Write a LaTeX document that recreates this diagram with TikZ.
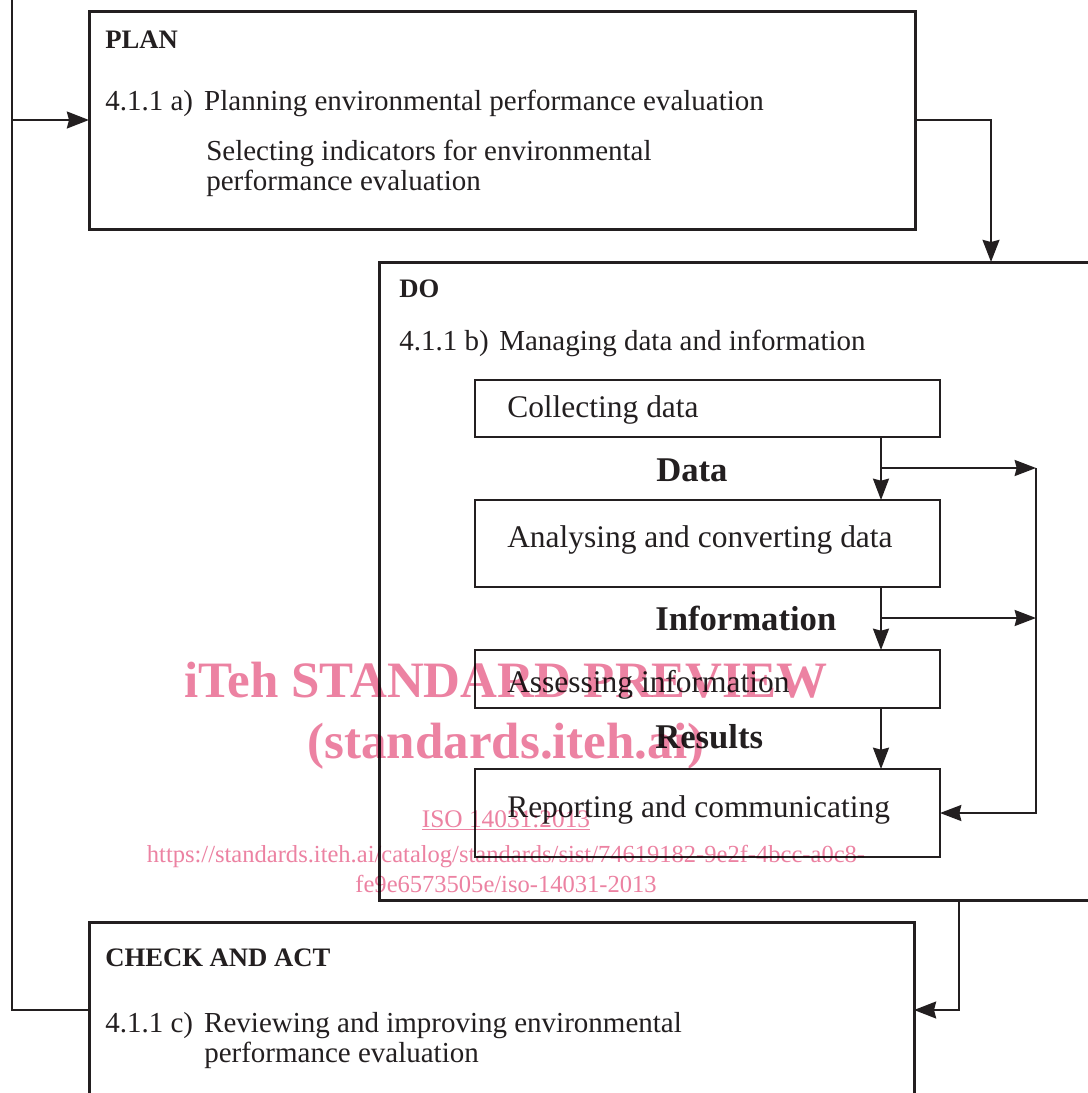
\documentclass[tikz,border=0pt]{standalone}
\usepackage{fontspec}
\setmainfont{Liberation Serif}
\usetikzlibrary{arrows.meta,calc}
\definecolor{ink}{RGB}{35,31,32}
\definecolor{wmpink}{RGB}{236,130,162}
\begin{document}
\begin{tikzpicture}[x=0.75pt,y=-0.75pt,
  bigbox/.style={draw=ink, line width=2.25pt, inner sep=0pt, outer sep=0pt, anchor=north west},
  smallbox/.style={draw=ink, line width=1.5pt, inner sep=0pt, outer sep=0pt, anchor=north west},
  txt/.style={anchor=base west, inner sep=0pt, text=ink, font=\fontsize{21.75}{22.5}\selectfont},
  intxt/.style={txt, font=\fontsize{23.6}{26}\selectfont},
  head/.style={txt, font=\fontsize{20}{24}\selectfont\bfseries},
  flowlbl/.style={txt, font=\fontsize{26}{30}\selectfont\bfseries},
  arr/.style={draw=ink, line width=2.2pt, -{Stealth[length=16.5pt,width=12.5pt,inset=1.5pt]}},
  iarr/.style={draw=ink, line width=1.5pt, -{Stealth[length=16pt,width=12pt,inset=1.5pt]}},
  wmk/.style={anchor=base, inner sep=0pt, text=wmpink}
]
\useasboundingbox (0,0) rectangle (1088,1093);
\fill[white] (0,0) rectangle (1088,1093);
\begin{scope}
\clip (0,0) rectangle (1088,1093);

% ---- boxes
\node[bigbox, minimum width={826*0.75pt}, minimum height={218*0.75pt}] (plan) at (89,11) {};
\node[bigbox, minimum width={740*0.75pt}, minimum height={638*0.75pt}] (do) at (379,262) {};
\node[bigbox, minimum width={825*0.75pt}, minimum height={200*0.75pt}] (check) at (89,922) {};

\node[smallbox, minimum width={465*0.75pt}, minimum height={57*0.75pt}] (collect) at (475,380) {};
\node[smallbox, minimum width={465*0.75pt}, minimum height={87*0.75pt}] (analyse) at (475,500) {};
\node[smallbox, minimum width={465*0.75pt}, minimum height={58*0.75pt}] (assess) at (475,650) {};
\node[smallbox, minimum width={465*0.75pt}, minimum height={88*0.75pt}] (report) at (475,769) {};

% ---- texts
\node[head] (planT) at (105,48) {PLAN};
\node[txt] (planA) at (105,110) {\makebox[74.25pt][l]{4.1.1 a)}Planning environmental performance evaluation};
\node[txt] (planB) at (206,160) {Selecting indicators for environmental};
\node[txt] (planC) at (206,190) {performance evaluation};

\node[head] (doT) at (399,297) {DO};
\node[txt] (doA) at (399,350) {\makebox[75pt][l]{4.1.1 b)}Managing data and information};

\node[intxt] (collectT) at (507,417) {Collecting data};
\node[flowlbl] (dataT) at (656,481) {Data};
\node[intxt] (analyseT) at (507,547) {Analysing and converting data};
\node[flowlbl] (infoT) at (655,630) {Information};
\node[intxt] (assessT) at (507,692) {Assessing information};
\node[flowlbl] (resT) at (655,748) {Results};
\node[intxt] (reportT) at (507,817) {Reporting and communicating};

\node[head] (checkT) at (105,966) {CHECK AND ACT};
\node[txt] (checkA) at (105,1032) {\makebox[74.25pt][l]{4.1.1 c)}Reviewing and improving environmental};
\node[txt] (checkB) at (204,1062) {performance evaluation};

% ---- helper coordinates
\coordinate (ya) at (0,120);
\coordinate (yc) at (0,1010);
\coordinate (xl) at (12,0);
\coordinate (xd) at (991,0);
\coordinate (xe) at (959,0);
\coordinate (xa) at (881,0);
\coordinate (b1) at (881,468);
\coordinate (r1) at (1036,468);
\coordinate (b2) at (881,618);
\coordinate (r2) at (1036,618);

% ---- outer connectors
\draw[arr] (plan.east |- ya) -| (do.north -| xd);
\draw[arr] (do.south -| xe) |- (check.east |- yc);
\draw[arr] (check.west |- yc) -| (xl) |- (plan.west |- ya);

% ---- inner connectors
\draw[iarr] (collect.south -| xa) -- (analyse.north -| xa);
\draw[iarr] (analyse.south -| xa) -- (assess.north -| xa);
\draw[iarr] (assess.south -| xa) -- (report.north -| xa);
\draw[iarr] (b1) -- (r1);
\draw[iarr] (b2) -- (r2);
\draw[iarr] (r1) |- (report.east);

% ---- watermark
\begin{scope}[blend mode=multiply]
\node[wmk, font=\fontsize{38.25}{40}\selectfont\bfseries] (wm1) at (506,697) {iTeh STANDARD PREVIEW};
\node[wmk, font=\fontsize{38.25}{40}\selectfont\bfseries] (wm2) at (506,758) {(standards.iteh.ai)};
\node[wmk, font=\fontsize{19}{20}\selectfont] (wm3) at (506,827) {\underline{ISO 14031:2013}};
\node[wmk, font=\fontsize{18.4}{20}\selectfont] (wm4) at (506,862) {https://standards.iteh.ai/catalog/standards/sist/74619182-9e2f-4bcc-a0c8-};
\node[wmk, font=\fontsize{18.4}{20}\selectfont] (wm5) at (506,892) {fe9e6573505e/iso-14031-2013};
\end{scope}
\end{scope}
\end{tikzpicture}
\end{document}
